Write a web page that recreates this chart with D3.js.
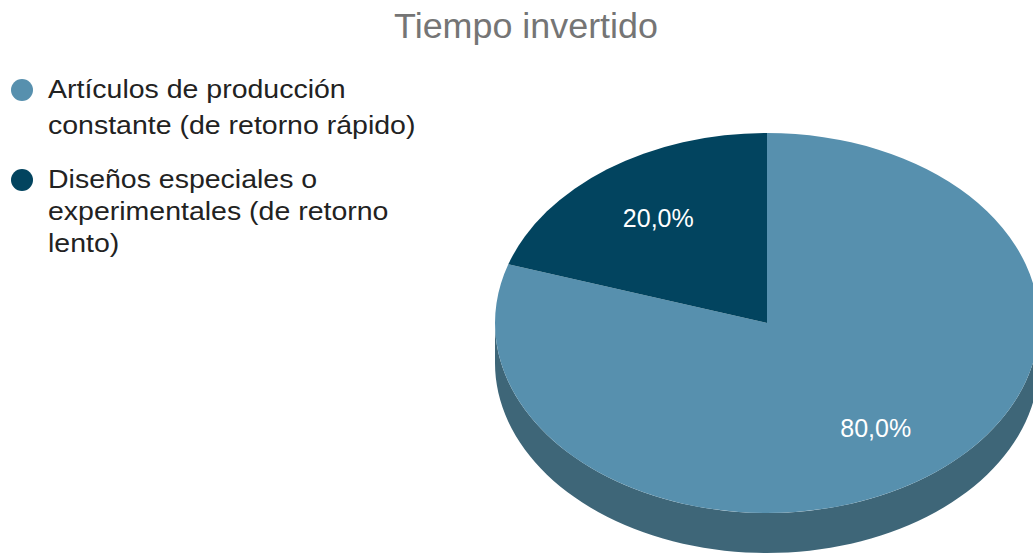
<!DOCTYPE html>
<html lang="es">
<head>
    <meta charset="UTF-8">
    <title>Tiempo invertido</title>
    <script src="https://d3js.org/d3.v7.min.js"></script>
    <style>
        body { margin: 0; background: #fff; }
    </style>
</head>
<body>
<script>
    // Data
    const categories = [
        ['Artículos de producción', 'constante (de retorno rápido)'],
        ['Diseños especiales o', 'experimentales (de retorno', 'lento)']
    ];
    const values = [80, 20];
    const labels = ['80,0%', '20,0%'];
    const colors = ['#5790ae', '#02445f'];
    const sideColors = ['#3e6678', '#02303f'];

    const width = 1033, height = 554;
    const cx = 767, cy = 323, rx = 272, ry = 190, depth = 40;
    const font = 'Arial, "Liberation Sans", sans-serif';

    const svg = d3.select('body').append('svg')
        .attr('width', width)
        .attr('height', height)
        .attr('font-family', font);

    // Title
    svg.append('text')
        .attr('transform', 'translate(526,38) scale(1.04,1)')
        .attr('text-anchor', 'middle')
        .attr('font-size', 34.5)
        .attr('fill', '#757575')
        .text('Tiempo invertido');

    // Legend (text is drawn a bit wide, like the original)
    const baselines = [[98, 134], [188, 220, 252]];
    categories.forEach((lines, i) => {
        svg.append('circle')
            .attr('cx', 22).attr('cy', baselines[i][0] - 8)
            .attr('r', 11)
            .attr('fill', colors[i]);
        lines.forEach((t, j) => {
            svg.append('text')
                .attr('transform', `translate(48,${baselines[i][j]}) scale(1.14,1)`)
                .attr('font-size', 25)
                .attr('fill', '#222')
                .text(t);
        });
    });

    const pie = d3.pie().sort(null).value(d => d);
    const arcs = pie(values);

    // ellipse point for angle measured clockwise from 12 o'clock
    const pt = (a, dy) => [cx + rx * Math.sin(a), cy - ry * Math.cos(a) + dy];

    // Side walls (visible half: PI/2 .. 3PI/2)
    const line = d3.line();
    arcs.forEach((d, i) => {
        const a0 = Math.max(d.startAngle, Math.PI / 2);
        const a1 = Math.min(d.endAngle, 3 * Math.PI / 2);
        if (a1 <= a0) return;
        const n = 80;
        const top = d3.range(n + 1).map(k => pt(a0 + (a1 - a0) * k / n, 0));
        const bottom = d3.range(n + 1).map(k => pt(a1 - (a1 - a0) * k / n, depth));
        svg.append('path')
            .attr('d', line(top.concat(bottom)) + 'Z')
            .attr('fill', sideColors[i]);
    });

    // Top face: circular arcs squashed into an ellipse
    const arc = d3.arc().innerRadius(0).outerRadius(rx);
    svg.append('g')
        .attr('transform', `translate(${cx},${cy}) scale(1,${ry / rx})`)
        .selectAll('path')
        .data(arcs)
        .join('path')
        .attr('d', arc)
        .attr('fill', (d, i) => colors[i]);

    // Slice labels
    svg.selectAll('.lbl')
        .data(arcs)
        .join('text')
        .attr('class', 'lbl')
        .attr('x', d => pt((d.startAngle + d.endAngle) / 2, 0)[0] * 0.68 + cx * 0.32)
        .attr('y', d => (pt((d.startAngle + d.endAngle) / 2, 0)[1] * 0.68 + cy * 0.32) + 9)
        .attr('text-anchor', 'middle')
        .attr('font-size', 25)
        .attr('fill', '#fff')
        .text((d, i) => labels[i]);
</script>
</body>
</html>
